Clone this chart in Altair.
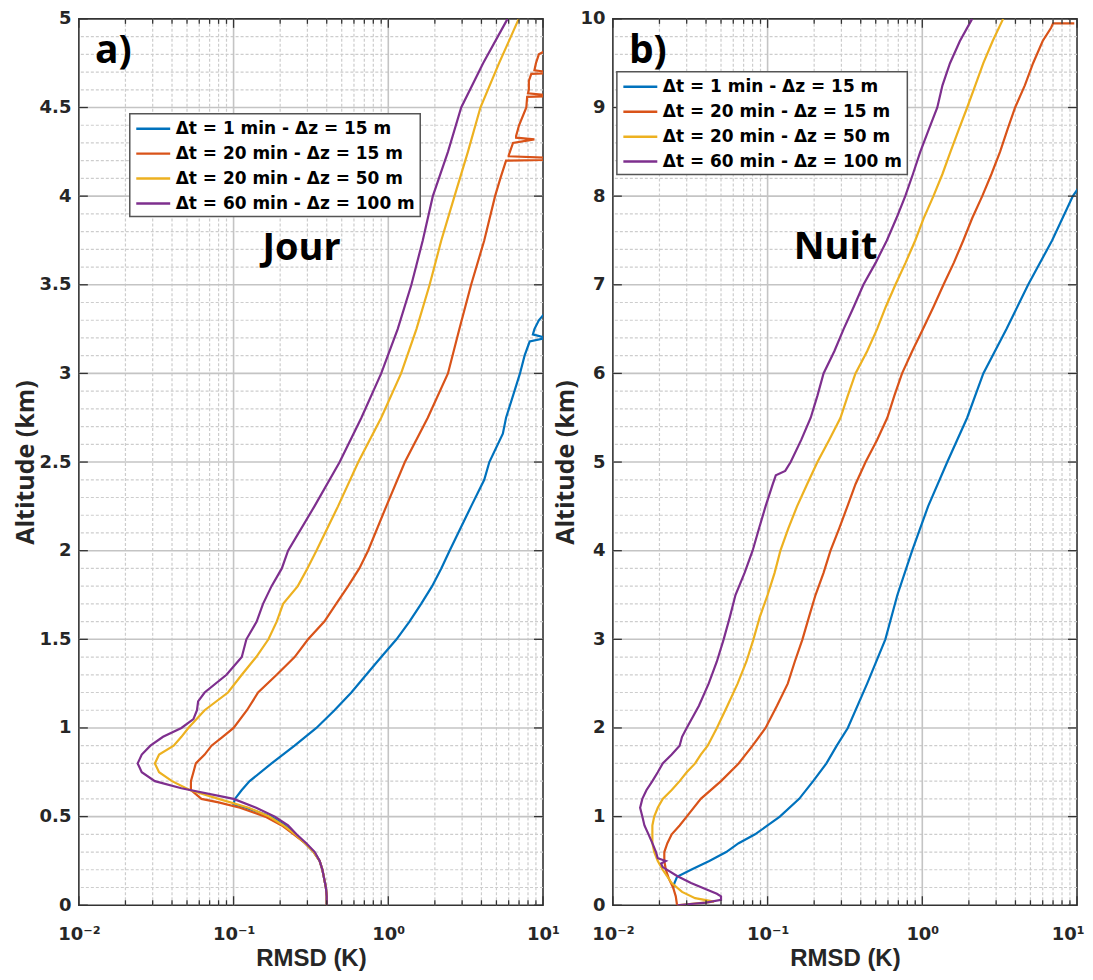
import altair as alt
import pandas as pd

SERIES = ["Δt = 1 min - Δz = 15 m", "Δt = 20 min - Δz = 15 m",
          "Δt = 20 min - Δz = 50 m", "Δt = 60 min - Δz = 100 m"]
COLORS = ["#0072BD", "#D95319", "#EDB120", "#7E2F8E"]

# ---------------- Jour (panel a) ----------------
J_BLUE_ALT = [0, 0.05, 0.1, 0.15, 0.2, 0.25, 0.3, 0.35, 0.4, 0.45, 0.5, 0.55, 0.57, 0.6, 0.65, 0.7,
              0.8, 0.9, 1.0, 1.1, 1.2, 1.3, 1.4, 1.5, 1.6, 1.7, 1.8, 1.9, 2.0, 2.25, 2.4, 2.5, 2.66,
              2.75, 3.0, 3.1, 3.18, 3.2, 3.22, 3.25, 3.3, 3.35]
J_BLUE_X = [0.40, 0.40, 0.395, 0.385, 0.375, 0.36, 0.33, 0.29, 0.25, 0.215, 0.175, 0.12, 0.10, 0.102,
            0.113, 0.127, 0.176, 0.248, 0.343, 0.449, 0.577, 0.72, 0.90, 1.13, 1.37, 1.63, 1.92, 2.2,
            2.49, 3.43, 4.17, 4.5, 5.5, 5.77, 7.1, 7.6, 8.2, 10.5, 8.6, 8.8, 9.4, 10.5]

J_RED_ALT = [0, 0.05, 0.1, 0.15, 0.2, 0.25, 0.3, 0.35, 0.4, 0.45, 0.5, 0.55, 0.58, 0.6, 0.65, 0.7,
             0.75, 0.8, 0.85, 0.9, 0.95, 1.0, 1.1, 1.2, 1.3, 1.4, 1.5, 1.6, 1.7, 1.8, 1.9, 2.0, 2.25,
             2.5, 2.75, 3.0, 3.25, 3.5, 3.75, 4.0, 4.1, 4.2, 4.205, 4.215, 4.225, 4.23, 4.3, 4.32,
             4.33, 4.34, 4.4, 4.5, 4.56, 4.565, 4.58, 4.6, 4.65, 4.69, 4.695, 4.71, 4.75, 4.8, 4.85]
J_RED_X = [0.40, 0.40, 0.395, 0.385, 0.375, 0.36, 0.33, 0.29, 0.245, 0.205, 0.16, 0.11, 0.08, 0.062,
           0.053, 0.053, 0.055, 0.057, 0.065, 0.072, 0.085, 0.10, 0.122, 0.144, 0.19, 0.248, 0.303,
           0.386, 0.46, 0.55, 0.65, 0.74, 0.97, 1.28, 1.80, 2.43, 2.88, 3.43, 4.17, 4.9, 5.3, 5.77,
           12, 12, 6.0, 6.0, 6.4, 8.8, 6.7, 6.7, 7.0, 7.8, 7.9, 12, 8.0, 8.1, 8.1, 8.4, 12, 8.8, 9.0,
           9.4, 12]

J_YEL_ALT = [0, 0.05, 0.1, 0.15, 0.2, 0.25, 0.3, 0.35, 0.4, 0.45, 0.5, 0.55, 0.6, 0.65, 0.7, 0.75,
             0.8, 0.85, 0.9, 0.95, 1.0, 1.1, 1.2, 1.3, 1.4, 1.5, 1.6, 1.7, 1.8, 1.9, 2.0, 2.25, 2.5,
             2.75, 3.0, 3.25, 3.5, 3.75, 4.0, 4.25, 4.5, 4.75, 5.0]
J_YEL_X = [0.40, 0.40, 0.395, 0.385, 0.375, 0.36, 0.33, 0.29, 0.25, 0.21, 0.17, 0.125, 0.08, 0.052,
           0.04, 0.033, 0.031, 0.033, 0.041, 0.046, 0.051, 0.065, 0.092, 0.113, 0.14, 0.168, 0.19,
           0.209, 0.26, 0.30, 0.343, 0.473, 0.64, 0.90, 1.21, 1.52, 1.85, 2.2, 2.68, 3.27, 3.94,
           5.2, 6.97]

J_PUR_ALT = [0, 0.05, 0.1, 0.15, 0.2, 0.25, 0.3, 0.35, 0.4, 0.45, 0.5, 0.55, 0.6, 0.66, 0.7, 0.75,
             0.8, 0.85, 0.9, 0.95, 1.0, 1.05, 1.1, 1.15, 1.2, 1.3, 1.4, 1.5, 1.6, 1.7, 1.8, 1.9, 2.0,
             2.25, 2.5, 2.75, 3.0, 3.25, 3.5, 3.75, 4.0, 4.25, 4.5, 4.75, 5.0]
J_PUR_X = [0.40, 0.40, 0.395, 0.385, 0.375, 0.36, 0.335, 0.295, 0.255, 0.225, 0.185, 0.14, 0.10,
           0.046, 0.031, 0.0255, 0.024, 0.0255, 0.029, 0.035, 0.046, 0.055, 0.058, 0.059, 0.065,
           0.09, 0.113, 0.121, 0.141, 0.155, 0.176, 0.205, 0.225, 0.333, 0.485, 0.67, 0.90, 1.15,
           1.41, 1.67, 1.94, 2.43, 2.96, 4.1, 5.9]

# ---------------- Nuit (panel b) ----------------
N_BLUE_ALT = [0.19, 0.25, 0.32, 0.4, 0.5, 0.6, 0.7, 0.8, 0.9, 1.0, 1.2, 1.4, 1.6, 1.8, 2.0, 2.5, 3.0,
              3.5, 4.0, 4.5, 5.0, 5.5, 6.0, 6.5, 7.0, 7.5, 8.0, 8.1]
N_BLUE_X = [0.0245, 0.025, 0.026, 0.032, 0.042, 0.054, 0.065, 0.083, 0.10, 0.12, 0.16, 0.197, 0.24,
            0.28, 0.33, 0.44, 0.577, 0.69, 0.86, 1.09, 1.45, 1.95, 2.48, 3.5, 4.83, 6.9, 9.4, 10.3]

N_RED_ALT = [0, 0.1, 0.2, 0.3, 0.4, 0.5, 0.6, 0.7, 0.8, 0.9, 1.0, 1.2, 1.4, 1.6, 1.8, 2.0, 2.25, 2.5,
             2.75, 3.0, 3.25, 3.5, 3.75, 4.0, 4.25, 4.5, 4.75, 5.0, 5.25, 5.5, 5.75, 6.0, 6.25, 6.5,
             6.75, 7.0, 7.25, 7.5, 7.75, 8.0, 8.25, 8.5, 8.75, 9.0, 9.25, 9.5, 9.75, 9.9, 9.95, 9.95]
N_RED_X = [0.026, 0.0255, 0.0245, 0.023, 0.022, 0.0215, 0.0215, 0.0225, 0.024, 0.027, 0.03, 0.037,
           0.05, 0.065, 0.08, 0.097, 0.115, 0.135, 0.15, 0.168, 0.185, 0.204, 0.23, 0.255, 0.29,
           0.328, 0.37, 0.43, 0.51, 0.594, 0.66, 0.74, 0.86, 1.01, 1.18, 1.37, 1.6, 1.84, 2.1, 2.44,
           2.8, 3.18, 3.55, 3.98, 4.6, 5.2, 6.0, 6.8, 7.0, 9.6]

N_YEL_ALT = [0.0, 0.04, 0.08, 0.15, 0.25, 0.4, 0.5, 0.6, 0.7, 0.8, 0.9, 1.0, 1.1, 1.2, 1.3, 1.4, 1.5,
             1.6, 1.7, 1.8, 2.0, 2.25, 2.5, 2.75, 3.0, 3.25, 3.5, 3.75, 4.0, 4.25, 4.5, 4.75, 5.0,
             5.25, 5.5, 5.75, 6.0, 6.25, 6.5, 6.75, 7.0, 7.25, 7.5, 7.75, 8.0, 8.25, 8.5, 8.75, 9.0,
             9.25, 9.5, 9.75, 10.0]
N_YEL_X = [0.026, 0.045, 0.034, 0.028, 0.024, 0.021, 0.0195, 0.0185, 0.018, 0.018, 0.018, 0.0185,
           0.0195, 0.021, 0.024, 0.027, 0.030, 0.034, 0.037, 0.041, 0.047, 0.055, 0.064, 0.073,
           0.081, 0.089, 0.10, 0.111, 0.121, 0.136, 0.155, 0.18, 0.21, 0.25, 0.296, 0.33, 0.37,
           0.44, 0.51, 0.58, 0.67, 0.78, 0.9, 1.02, 1.18, 1.35, 1.52, 1.72, 1.95, 2.2, 2.48, 2.85,
           3.33]

N_PUR_ALT = [0.0, 0.03, 0.06, 0.1, 0.13, 0.18, 0.25, 0.33, 0.43, 0.47, 0.5, 0.53, 0.6, 0.7, 0.8, 0.9,
             1.0, 1.1, 1.2, 1.3, 1.4, 1.5, 1.6, 1.7, 1.8, 1.9, 2.0, 2.25, 2.5, 2.75, 3.0, 3.25, 3.5,
             3.75, 4.0, 4.25, 4.5, 4.75, 4.85, 4.9, 5.0, 5.25, 5.5, 5.75, 6.0, 6.25, 6.5, 6.75, 7.0,
             7.25, 7.5, 7.75, 8.0, 8.25, 8.5, 8.75, 9.0, 9.25, 9.5, 9.75, 10.0]
N_PUR_X = [0.026, 0.04, 0.05, 0.05, 0.047, 0.04, 0.032, 0.026, 0.021, 0.0205, 0.022, 0.0195, 0.019,
           0.018, 0.017, 0.016, 0.0155, 0.015, 0.0155, 0.0165, 0.018, 0.0195, 0.021, 0.024, 0.027,
           0.028, 0.030, 0.036, 0.0416, 0.047, 0.052, 0.057, 0.062, 0.071, 0.08, 0.088, 0.097, 0.108,
           0.113, 0.13, 0.141, 0.165, 0.19, 0.21, 0.23, 0.27, 0.31, 0.36, 0.416, 0.5, 0.59, 0.68,
           0.776, 0.87, 0.97, 1.1, 1.25, 1.35, 1.51, 1.75, 2.1]

# ---------------- axes / grid ----------------
X_MAJOR = [0.01, 0.1, 1, 10]
X_MINOR = [0.02, 0.03, 0.04, 0.05, 0.06, 0.07, 0.08, 0.09,
           0.2, 0.3, 0.4, 0.5, 0.6, 0.7, 0.8, 0.9,
           2, 3, 4, 5, 6, 7, 8, 9]
Y_MAJOR_A = [0, 0.5, 1, 1.5, 2, 2.5, 3, 3.5, 4, 4.5, 5]
Y_MINOR_A = [v / 10 for v in range(1, 50) if v % 5 != 0]
Y_MAJOR_B = [0, 1, 2, 3, 4, 5, 6, 7, 8, 9, 10]
Y_MINOR_B = [v / 5 for v in range(1, 50) if v % 5 != 0]

W, H = 465, 888
FRAME = "#333333"
TXT = "#262626"


def make_df(alts, xs):
    rows = []
    for s, a, x in zip(SERIES, alts, xs):
        for i, (aa, xx) in enumerate(zip(a, x)):
            rows.append({"series": s, "i": i, "alt": aa, "rmsd": xx})
    return pd.DataFrame(rows)


def panel(df, ymax, ymaj, ymin, lx, ly, tag, tag_y, word, word_y, last_flush):
    xs = alt.Scale(type="log", domain=[0.01, 10], nice=False)
    ys = alt.Scale(domain=[0, ymax], nice=False, zero=False)
    extra = {}
    if last_flush:
        extra = dict(
            labelAlign={"condition": {"test": "datum.value >= 5", "value": "right"}, "value": "center"},
            labelOffset={"condition": {"test": "datum.value >= 5", "value": 7}, "value": 0},
        )
    ax = alt.Axis(
        values=X_MAJOR, grid=False, ticks=False, domain=False,
        labelExpr="datum.value < 0.05 ? '10⁻²' : datum.value < 0.5 ? '10⁻¹' : datum.value < 5 ? '10⁰' : '10¹'",
        labelFont="DejaVu Sans", labelFontWeight="bold", labelFontSize=18, labelColor=TXT,
        labelPadding=20, labelFlush=False,
        title="RMSD (K)", titleFont="Liberation Sans", titleFontWeight="bold",
        titleFontSize=24, titleColor=TXT, titlePadding=3, **extra)
    ay = alt.Axis(
        values=ymaj, grid=False, ticks=False, domain=False, format=".1~f",
        labelFont="DejaVu Sans", labelFontWeight="bold", labelFontSize=18, labelColor=TXT,
        labelPadding=8, labelFlush=False,
        title="Altitude (km)", titleFont="Open Sans", titleFontWeight="bold",
        titleFontSize=25, titleColor=TXT, titlePadding=1)

    def X(f):
        return alt.X(f, scale=xs, axis=ax)

    def Y(f):
        return alt.Y(f, scale=ys, axis=ay)

    def xrule(vals, color, width, dash=None):
        m = dict(color=color, strokeWidth=width)
        if dash:
            m["strokeDash"] = dash
        return alt.Chart(pd.DataFrame({"v": vals})).mark_rule(**m).encode(x=X("v:Q"))

    def yrule(vals, color, width, dash=None):
        m = dict(color=color, strokeWidth=width)
        if dash:
            m["strokeDash"] = dash
        return alt.Chart(pd.DataFrame({"v": vals})).mark_rule(**m).encode(y=Y("v:Q"))

    grid = [
        xrule(X_MINOR, "#cdcdcd", 1.2, [3, 2]),
        yrule(ymin, "#cdcdcd", 1.2, [3, 2]),
        xrule(X_MAJOR[1:-1], "#c4c4c4", 1.6),
        yrule(ymaj[1:-1], "#c4c4c4", 1.6),
    ]

    lines = alt.Chart(df).mark_line(strokeWidth=2.2, clip=True).encode(
        x=X("rmsd:Q"),
        y=Y("alt:Q"),
        color=alt.Color("series:N", scale=alt.Scale(domain=SERIES, range=COLORS),
                        legend=alt.Legend(
                            orient="none", legendX=lx, legendY=ly, title=None,
                            direction="vertical", symbolType="M-1,0H3", symbolSize=289,
                            symbolStrokeWidth=2.5, labelFont="DejaVu Sans",
                            labelFontWeight="bold", labelFontSize=17, labelColor="black",
                            labelLimit=400, strokeColor="#555555", fillColor="white",
                            padding=5, rowPadding=7, labelOffset=21)),
        order=alt.Order("i:Q"),
    )

    def xticks(vals, y0, y1):
        return alt.Chart(pd.DataFrame({"v": vals})).mark_rule(color=FRAME, strokeWidth=1.3).encode(
            x=X("v:Q"), y=alt.value(y0), y2=alt.value(y1))

    def yticks(vals, x0, x1):
        return alt.Chart(pd.DataFrame({"v": vals})).mark_rule(color=FRAME, strokeWidth=1.3).encode(
            y=Y("v:Q"), x=alt.value(x0), x2=alt.value(x1))

    ticks = [
        xticks(X_MAJOR, H, H - 9), xticks(X_MAJOR, 0, 9),
        xticks(X_MINOR, H, H - 5), xticks(X_MINOR, 0, 5),
        yticks(ymaj, 0, 9), yticks(ymaj, W, W - 9),
    ]

    tag_txt = alt.Chart(pd.DataFrame({"x": [0.0127], "y": [tag_y], "t": [tag]})).mark_text(
        font="Open Sans", fontWeight="bold", fontSize=39, align="left", baseline="alphabetic",
        color="black").encode(x=X("x:Q"), y=Y("y:Q"), text="t:N")
    word_txt = alt.Chart(pd.DataFrame({"x": [0.275], "y": [word_y], "t": [word]})).mark_text(
        font="Open Sans", fontWeight="bold", fontSize=38, align="center", baseline="alphabetic",
        color="black").encode(x=X("x:Q"), y=Y("y:Q"), text="t:N")

    return alt.layer(*grid, lines, *ticks, tag_txt, word_txt).properties(width=W, height=H)


df_a = make_df([J_BLUE_ALT, J_RED_ALT, J_YEL_ALT, J_PUR_ALT], [J_BLUE_X, J_RED_X, J_YEL_X, J_PUR_X])
df_b = make_df([N_BLUE_ALT, N_RED_ALT, N_YEL_ALT, N_PUR_ALT], [N_BLUE_X, N_RED_X, N_YEL_X, N_PUR_X])

left = panel(df_a, 5, Y_MAJOR_A, Y_MINOR_A, 51, 95, "a)", 4.75, "Jour", 3.64, False)
right = panel(df_b, 10, Y_MAJOR_B, Y_MINOR_B, 4, 53, "b)", 9.5, "Nuit", 7.29, True)

chart = alt.hconcat(left, right, spacing=70, bounds="flush").resolve_scale(
    x="independent", y="independent", color="independent"
).resolve_legend(color="independent").properties(
    padding={"left": 4, "top": 0, "right": 0, "bottom": 0}, background="white"
).configure_view(stroke=FRAME, strokeWidth=1.6).configure_legend(strokeWidth=1.5)

chart.save("out.html", embed_options={"renderer": "svg", "actions": False})
